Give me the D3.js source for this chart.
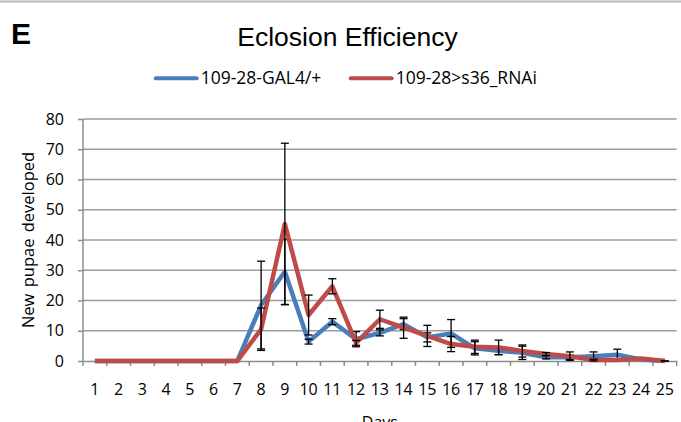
<!DOCTYPE html>
<html>
<head>
<meta charset="utf-8">
<script src="https://cdn.jsdelivr.net/npm/d3@7"></script>
<style>
  body { margin: 0; background: #fff; }
  svg { display: block; }
</style>
</head>
<body>
<svg id="chart"></svg>
<script>
// chart data
var days = d3.range(1, 26);
var seriesNames = ["109-28-GAL4/+", "109-28>s36_RNAi"];
var gal4Mean = [0, 0, 0, 0, 0, 0, 0, 18.5, 29.5, 6.4, 13, 7.2, 9.3, 12.2, 7.8, 9.1, 4.2, 3.4, 2.7, 1.2, 1.2, 1.6, 2.1, 0.5, 0];
var gal4Err  = [null, null, null, null, null, null, null, 14.5, 10.8, 0.8, 1, 2.5, 1, 1.8, 1.5, 4.6, 2.2, 1.3, 2.2, 0.5, 0.7, 1.4, 1.8, null, null];
var rnaiMean = [0, 0, 0, 0, 0, 0, 0, 10.5, 45.3, 15.2, 24.7, 6, 13.8, 11.0, 8.3, 5.6, 4.7, 4.5, 3.3, 2.3, 1.6, 0.3, 0.3, 0.8, 0];
var rnaiErr  = [null, null, null, null, null, null, null, 7, 26.7, 6.6, 2.5, 0.8, 3, 3.5, 3.5, 2.5, 2.2, 2.4, 2, 0.5, 1.4, 0.3, null, null, 0];
var yTicks = [0, 10, 20, 30, 40, 50, 60, 70, 80];
var colors = ["#4A7EBB", "#BE4B48"];

var width = 681, height = 422;
var margin = {top: 119, right: 4.3, bottom: 61, left: 83};

var svg = d3.select("#chart")
  .attr("width", width)
  .attr("height", height);

var font = "'Open Sans', 'Noto Sans', sans-serif";

// thin frame line at top
svg.append("line")
  .attr("x1", 0).attr("x2", width)
  .attr("y1", 1.5).attr("y2", 1.5)
  .attr("stroke", "#b8b8b8")
  .attr("stroke-width", 2);

// panel letter
svg.append("text")
  .attr("x", 11)
  .attr("y", 44)
  .text("E")
  .style("font-family", "'Liberation Sans', Arial, sans-serif")
  .style("font-weight", "bold")
  .style("font-size", "30px");

// title
svg.append("text")
  .attr("text-anchor", "middle")
  .attr("x", 347.5)
  .attr("y", 45.5)
  .text("Eclosion Efficiency")
  .style("font-family", "'Liberation Sans', Arial, sans-serif")
  .style("font-size", "26.5px");

// scales
var x = d3.scaleBand()
  .domain(days)
  .range([margin.left, width - margin.right]);

var y = d3.scaleLinear()
  .domain([0, 80])
  .range([height - margin.bottom, margin.top]);

// gridlines
svg.append("g")
  .selectAll("line")
  .data(yTicks.filter(function(d) { return d > 0; }))
  .enter()
  .append("line")
  .attr("x1", margin.left)
  .attr("x2", width - margin.right)
  .attr("y1", function(d) { return y(d); })
  .attr("y2", function(d) { return y(d); })
  .attr("stroke", "#9c9c9c")
  .attr("stroke-width", 1.5);

// Y axis
var yAxis = svg.append("g")
  .attr("transform", "translate(" + margin.left + ",0)")
  .call(d3.axisLeft(y).tickValues(yTicks).tickSize(5).tickPadding(14).tickSizeOuter(0));
yAxis.select(".domain").attr("stroke", "#8c8c8c").attr("stroke-width", 1.5)
  .attr("d", "M0," + y(80) + "V" + (y(0) + 5));
yAxis.selectAll(".tick line").attr("stroke", "#8c8c8c").attr("stroke-width", 1.5);
yAxis.selectAll("text")
  .style("font-family", font)
  .style("font-size", "16px")
  .attr("fill", "#000");

// X axis
var xAxis = svg.append("g")
  .attr("transform", "translate(0," + y(0) + ")")
  .call(d3.axisBottom(x).tickSize(0).tickPadding(23).tickSizeOuter(0));
xAxis.select(".domain").attr("stroke", "#8c8c8c").attr("stroke-width", 1.5);
xAxis.selectAll("text")
  .style("font-family", font)
  .style("font-size", "16px")
  .attr("fill", "#000");

// x ticks sit on the category boundaries
xAxis.selectAll(".bound")
  .data(days)
  .enter()
  .append("line")
  .attr("x1", function(d) { return x(d) + x.bandwidth(); })
  .attr("x2", function(d) { return x(d) + x.bandwidth(); })
  .attr("y1", 0)
  .attr("y2", 5)
  .attr("stroke", "#8c8c8c")
  .attr("stroke-width", 1.5);

// axis titles
svg.append("text")
  .attr("text-anchor", "middle")
  .attr("x", (margin.left + width - margin.right) / 2)
  .attr("y", 428)
  .text("Days")
  .style("font-family", font)
  .style("font-size", "16px");

svg.append("text")
  .attr("text-anchor", "middle")
  .attr("transform", "translate(33.5," + ((y(0) + y(80)) / 2) + ")rotate(-90)")
  .text("New pupae developed")
  .style("font-family", font)
  .style("font-size", "16.5px")
  .style("word-spacing", "2px");

// series
var series = [
  {name: seriesNames[0], mean: gal4Mean, err: gal4Err, color: colors[0]},
  {name: seriesNames[1], mean: rnaiMean, err: rnaiErr, color: colors[1]}
];

var line = d3.line()
  .x(function(d, i) { return x(days[i]) + x.bandwidth() / 2; })
  .y(function(d) { return y(d); });

series.forEach(function(s) {
  svg.append("path")
    .datum(s.mean)
    .attr("fill", "none")
    .attr("stroke", s.color)
    .attr("stroke-width", 4.5)
    .attr("stroke-linejoin", "round")
    .attr("d", line);

  var bars = s.mean.map(function(m, i) {
    return {day: days[i], m: m, e: s.err[i]};
  }).filter(function(d) { return d.e !== null; });

  var g = svg.append("g").attr("stroke", "#000").attr("stroke-width", 1.3);
  g.selectAll(".v")
    .data(bars).enter().append("line")
    .attr("x1", function(d) { return x(d.day) + x.bandwidth() / 2; })
    .attr("x2", function(d) { return x(d.day) + x.bandwidth() / 2; })
    .attr("y1", function(d) { return y(d.m + d.e); })
    .attr("y2", function(d) { return y(Math.max(0, d.m - d.e)); });
  [1, -1].forEach(function(sign) {
    g.selectAll(".c" + sign)
      .data(bars).enter().append("line")
      .attr("x1", function(d) { return x(d.day) + x.bandwidth() / 2 - 4; })
      .attr("x2", function(d) { return x(d.day) + x.bandwidth() / 2 + 4; })
      .attr("y1", function(d) { return y(Math.max(0, d.m + sign * d.e)); })
      .attr("y2", function(d) { return y(Math.max(0, d.m + sign * d.e)); });
  });
});

// legend
var legendX = [155.7, 350.7];
var legend = svg.append("g");
series.forEach(function(s, i) {
  legend.append("line")
    .attr("x1", legendX[i]).attr("x2", legendX[i] + 41)
    .attr("y1", 78.3).attr("y2", 78.3)
    .attr("stroke", s.color)
    .attr("stroke-width", 4)
    .attr("stroke-linecap", "round");
  legend.append("text")
    .attr("x", legendX[i] + 45)
    .attr("y", 84)
    .text(s.name)
    .style("font-family", font)
    .style("font-size", "17.5px");
});
</script>
</body>
</html>
